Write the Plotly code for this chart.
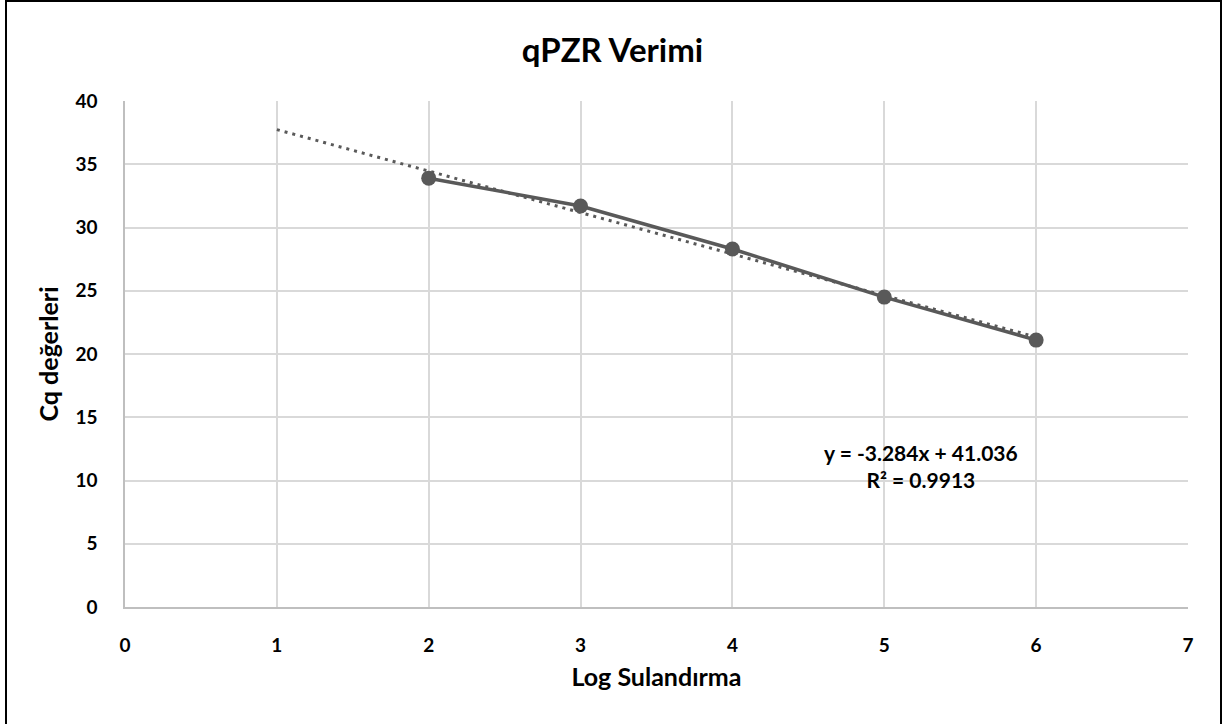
import numpy as np
import plotly.graph_objects as go

# Data
log_dilution = [2, 3, 4, 5, 6]
cq_values = [33.9, 31.7, 28.3, 24.5, 21.1]
trend_x = [1, 6]
equation_text = "y = -3.284x + 41.036<br>R² = 0.9913"
x_ticks = [0, 1, 2, 3, 4, 5, 6, 7]
y_ticks = [0, 5, 10, 15, 20, 25, 30, 35, 40]

slope, intercept = np.polyfit(log_dilution, cq_values, 1)
trend_y = [slope * x + intercept for x in trend_x]

FONT = "Lato"
GRAY = "#595959"

fig = go.Figure()
fig.add_trace(go.Scatter(
    x=trend_x, y=trend_y, mode="lines",
    line=dict(color=GRAY, width=3, dash="3px,5px"),
    showlegend=False, hoverinfo="skip"))
fig.add_trace(go.Scatter(
    x=log_dilution, y=cq_values, mode="lines+markers",
    line=dict(color=GRAY, width=3.5),
    marker=dict(color=GRAY, size=15),
    showlegend=False))

W, H = 1225, 724
L, R, T, B = 125, 37, 101, 117
pw, ph = W - L - R, H - T - B

def px2paper_x(px):
    return (px - L) / pw

def px2paper_y(py):
    return (H - B - py) / ph

fig.update_layout(
    width=W, height=H,
    margin=dict(l=L, r=R, t=T, b=B),
    paper_bgcolor="white", plot_bgcolor="white",
    font=dict(family=FONT, color="black"),
    title=dict(text="qPZR Verimi", x=0.5, xref="container", xanchor="center",
               y=1 - 50 / H, yref="container", yanchor="middle",
               font=dict(family=FONT, size=33, weight="bold", color="black")),
    xaxis=dict(range=[0, 7], tickvals=x_ticks, showgrid=True, gridcolor="#d9d9d9", gridwidth=1.5,
               showline=True, linecolor="#bfbfbf", linewidth=1.5, zeroline=False,
               ticks="", ticklabelstandoff=20,
               tickfont=dict(family=FONT, size=19, weight="bold", color="black"),
               title=dict(text="Log Sulandırma", standoff=14,
                          font=dict(family=FONT, size=25, weight="bold", color="black"))),
    yaxis=dict(range=[0, 40], tickvals=y_ticks, showgrid=True, gridcolor="#d9d9d9", gridwidth=1.5,
               showline=True, linecolor="#bfbfbf", linewidth=1.5, zeroline=False,
               ticks="", ticklabelstandoff=22,
               tickfont=dict(family=FONT, size=19, weight="bold", color="black"),
               title=dict(text="Cq değerleri", standoff=10,
                          font=dict(family=FONT, size=25, weight="bold", color="black"))),
    annotations=[dict(
        text=equation_text, xref="paper", yref="paper",
        x=px2paper_x(921), y=px2paper_y(466), xanchor="center", yanchor="middle",
        showarrow=False, align="center",
        font=dict(family=FONT, size=21, weight="bold", color="black"))],
    shapes=[dict(type="rect", xref="paper", yref="paper",
                 x0=px2paper_x(6), x1=px2paper_x(1221),
                 y0=px2paper_y(735), y1=px2paper_y(1),
                 line=dict(color="black", width=2), fillcolor="rgba(0,0,0,0)",
                 layer="above")],
)

fig.write_html("out.html")
